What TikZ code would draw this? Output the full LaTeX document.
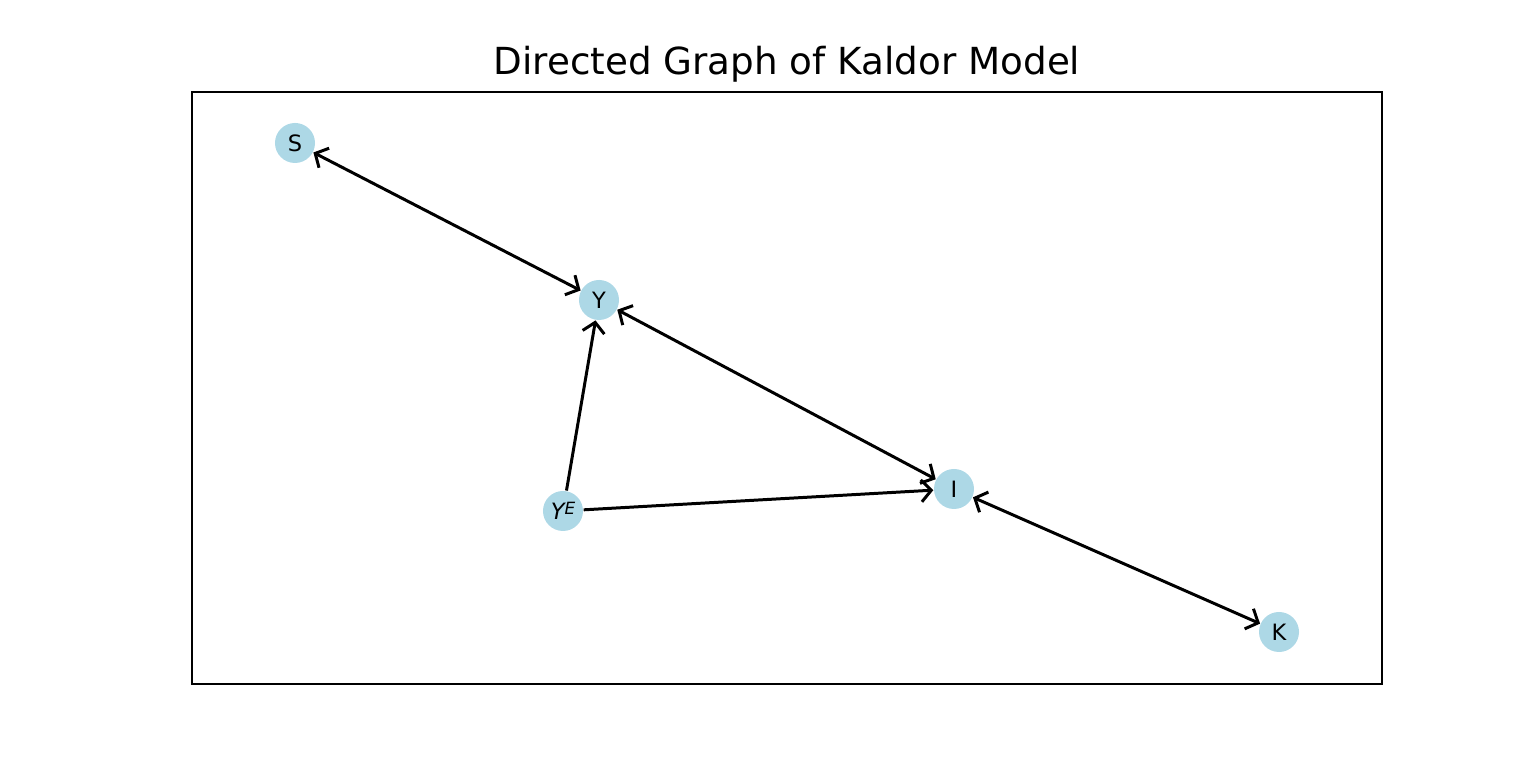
\documentclass[tikz,border=0pt]{standalone}
\usepackage{fontspec}
\setmainfont{DejaVu Sans}
\usepackage{tikz}
\usetikzlibrary{arrows.meta}
\definecolor{lightblue}{HTML}{ADD8E6}

\begin{document}
\begin{tikzpicture}[x=0.01cm, y=-0.01cm,
  var/.style={circle, fill=lightblue, minimum size=0.4cm, inner sep=0pt, font=\fontsize{6.4}{7}\selectfont},
  link/.style={line width=0.85pt, -{Straight Barb[length=1mm,width=2.2mm]}},
  twolink/.style={line width=0.85pt, {Straight Barb[length=1mm,width=2.2mm]}-{Straight Barb[length=1mm,width=2.2mm]}}]
\useasboundingbox (0,0) rectangle (1536,768);
\draw[line width=0.55pt] (192,92) rectangle (1382,684);
\node (title) at (787,64) {\fontsize{10.6}{12}\selectfont Directed Graph of Kaldor Model};
% variables
\node[var] (S) at (295,143) {S};
\node[var] (Y) at (599,300) {Y};
\node[var] (YE) at (563,511) {\itshape Y\raisebox{0.45ex}{\fontsize{4.8}{5}\selectfont E}};
\node[var] (I) at (954,489) {I};
\node[var] (K) at (1279,632) {K};
% edges
\draw[twolink] (S) -- (Y);
\draw[twolink] (Y) -- (I);
\draw[twolink] (I) -- (K);
\draw[link] (YE) -- (Y);
\draw[link] (YE) -- (I);
\end{tikzpicture}
\end{document}
